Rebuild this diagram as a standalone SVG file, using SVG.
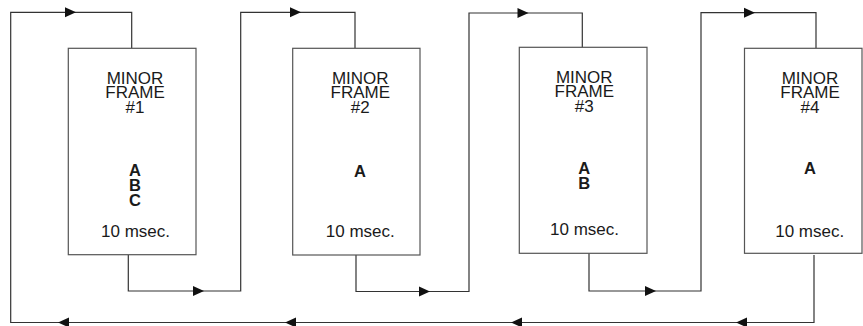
<svg xmlns="http://www.w3.org/2000/svg" width="863" height="326" viewBox="0 0 863 326">
<style>
.box{fill:#fff;stroke:#555;stroke-width:1.2}
.ln{fill:none;stroke:#333;stroke-width:1.2}
.t{font-family:"Liberation Sans",Arial,sans-serif;font-size:17px;fill:#1a1a1a;text-anchor:middle}
.b{font-family:"Liberation Sans",Arial,sans-serif;font-size:16.5px;font-weight:bold;fill:#1a1a1a;text-anchor:middle}
</style>
<defs>
<path id="ah" d="M0,0 L-11,-5 L-11,5 Z" fill="#111"/>
</defs>
<rect width="863" height="326" fill="#fff"/>
<g id="connectors">
<polyline class="ln" points="814,255 814,322.5 10.7,322.5 10.7,12.3 131.7,12.3 131.7,48"/>
<polyline class="ln" points="128.3,255 128.3,291 240.7,291 240.7,12.3 355,12.3 355,48"/>
<polyline class="ln" points="356,255 356,291.5 469,291.5 469,13 582.3,13 582.3,48"/>
<polyline class="ln" points="589,253 589,291 701,291 701,12.7 816,12.7 816,48"/>
<use href="#ah" transform="translate(76,12.3)"/>
<use href="#ah" transform="translate(301,12.3)"/>
<use href="#ah" transform="translate(528.5,13)"/>
<use href="#ah" transform="translate(755,12.7)"/>
<use href="#ah" transform="translate(204,291)"/>
<use href="#ah" transform="translate(430,291.5)"/>
<use href="#ah" transform="translate(656,291)"/>
<use href="#ah" transform="translate(58,322.5) rotate(180)"/>
<use href="#ah" transform="translate(285,322.5) rotate(180)"/>
<use href="#ah" transform="translate(511,322.5) rotate(180)"/>
<use href="#ah" transform="translate(736,322.5) rotate(180)"/>
</g>
<g id="frame1">
<rect class="box" x="68.3" y="48.3" width="127.7" height="206.4"/>
<text class="t" x="135" y="83.5">MINOR<tspan x="135" y="98">FRAME</tspan><tspan x="135" y="113">#1</tspan></text>
<text class="b" x="135" y="176">A<tspan x="135" y="191">B</tspan><tspan x="135" y="206">C</tspan></text>
<text class="t" x="135.5" y="236.7">10 msec.</text>
</g>
<g id="frame2">
<rect class="box" x="292.7" y="48.3" width="127.3" height="206.7"/>
<text class="t" x="360.3" y="83.5">MINOR<tspan x="360.3" y="98">FRAME</tspan><tspan x="360.3" y="113">#2</tspan></text>
<text class="b" x="360" y="176.5">A</text>
<text class="t" x="360.3" y="236.7">10 msec.</text>
</g>
<g id="frame3">
<rect class="box" x="519.3" y="47.3" width="127.7" height="206"/>
<text class="t" x="584.3" y="82.5">MINOR<tspan x="584.3" y="97">FRAME</tspan><tspan x="584.3" y="112">#3</tspan></text>
<text class="b" x="584.3" y="174">A<tspan x="584.3" y="189.3">B</tspan></text>
<text class="t" x="584.5" y="235">10 msec.</text>
</g>
<g id="frame4">
<rect class="box" x="744.5" y="48.3" width="117.5" height="205"/>
<text class="t" x="810" y="83.5">MINOR<tspan x="810" y="98">FRAME</tspan><tspan x="810" y="113">#4</tspan></text>
<text class="b" x="810" y="173.5">A</text>
<text class="t" x="809.7" y="236.7">10 msec.</text>
</g>
</svg>
